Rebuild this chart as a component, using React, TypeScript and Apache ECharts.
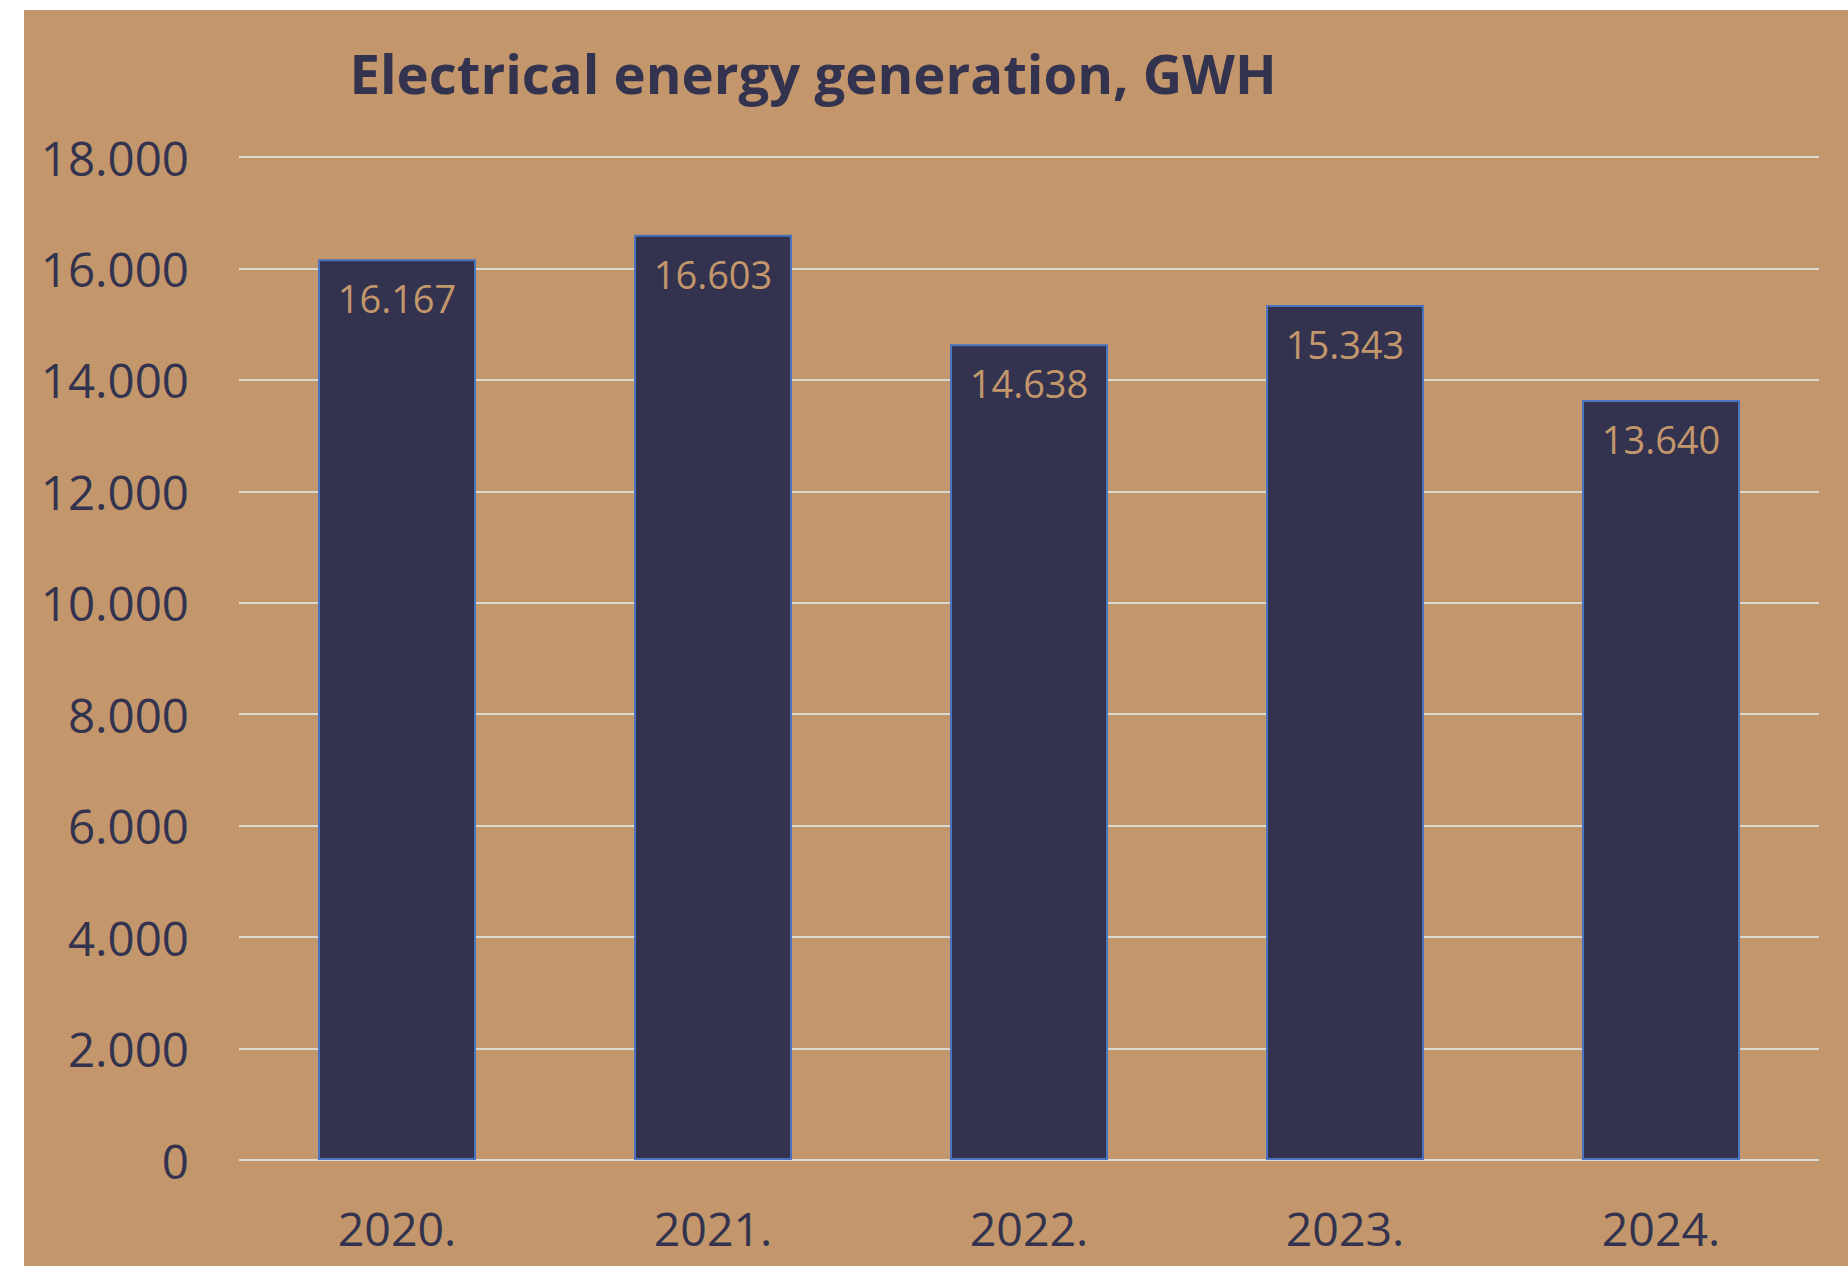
import React, { useEffect, useRef } from "react";
import * as echarts from "echarts";

const categories = ["2020.", "2021.", "2022.", "2023.", "2024."];
const generation = [16167, 16603, 14638, 15343, 13640];
const yTicks = { min: 0, max: 18000, interval: 2000 };
const titleText = "Electrical energy generation, GWH";

const BG = "#c3976b";
const NAVY = "#33334f";
const FONT = "Open Sans";

function fmt(v: number): string {
  if (v === 0) return "0";
  const s = Math.round(v).toString();
  return s.replace(/\B(?=(\d{3})+(?!\d))/g, ".");
}

export default function App() {
  const ref = useRef<HTMLDivElement>(null);
  useEffect(() => {
    document.body.style.margin = "0";
    const chart = echarts.init(ref.current!, null, { renderer: "svg" });
    chart.setOption({
      animation: false,
      backgroundColor: "#ffffff",
      graphic: [
        {
          type: "rect",
          z: -10,
          silent: true,
          shape: { x: 24, y: 10, width: 1824, height: 1256 },
          style: { fill: BG },
        },
        {
          type: "text",
          x: 813,
          y: 73,
          style: {
            text: titleText,
            fill: NAVY,
            font: `bold 54.5px "${FONT}"`,
            textAlign: "center",
            textVerticalAlign: "middle",
          },
        },
      ],
      grid: { left: 239, right: 29, top: 157, bottom: 106 },
      xAxis: {
        type: "category",
        data: categories,
        axisLine: { show: false },
        axisTick: { show: false },
        axisLabel: {
          color: NAVY,
          fontFamily: FONT,
          fontSize: 46.5,
          lineHeight: 48,
          margin: 44,
        },
      },
      yAxis: {
        type: "value",
        min: yTicks.min,
        max: yTicks.max,
        interval: yTicks.interval,
        axisLine: { show: false },
        axisTick: { show: false },
        splitLine: { lineStyle: { color: "#dcd8d2", width: 2 } },
        axisLabel: {
          color: NAVY,
          fontFamily: FONT,
          fontSize: 47.5,
          margin: 50,
          formatter: (v: number) => fmt(v),
        },
      },
      series: [
        {
          type: "bar",
          data: generation,
          barWidth: "50%",
          itemStyle: { color: NAVY, borderColor: "#4a73c0", borderWidth: 2 },
          label: {
            show: true,
            position: "insideTop",
            distance: 19,
            color: BG,
            fontFamily: FONT,
            fontSize: 38,
            lineHeight: 40,
            formatter: (p: any) => fmt(p.value),
          },
        },
      ],
    });
    return () => chart.dispose();
  }, []);
  return <div ref={ref} style={{ width: 1848, height: 1266 }} />;
}
